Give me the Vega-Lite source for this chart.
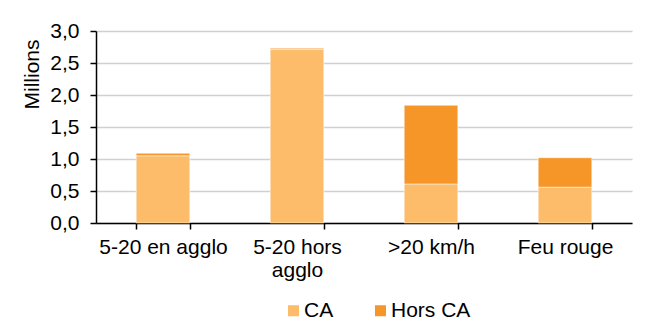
{
  "$schema": "https://vega.github.io/schema/vega-lite/v6.json",
  "width": 536,
  "height": 192,
  "autosize": {"type": "none"},
  "padding": {"top": 31, "left": 96, "right": 23, "bottom": 101},
  "background": "white",
  "config": {
    "font": "Liberation Sans",
    "view": {"stroke": null}
  },
  "data": {
    "values": [
      {"cat": "5-20 en agglo", "serie": "CA", "ord": 1, "val": 1.05},
      {"cat": "5-20 en agglo", "serie": "Hors CA", "ord": 2, "val": 0.04},
      {"cat": "5-20 hors agglo", "serie": "CA", "ord": 1, "val": 2.71},
      {"cat": "5-20 hors agglo", "serie": "Hors CA", "ord": 2, "val": 0.02},
      {"cat": ">20 km/h", "serie": "CA", "ord": 1, "val": 0.61},
      {"cat": ">20 km/h", "serie": "Hors CA", "ord": 2, "val": 1.23},
      {"cat": "Feu rouge", "serie": "CA", "ord": 1, "val": 0.56},
      {"cat": "Feu rouge", "serie": "Hors CA", "ord": 2, "val": 0.46}
    ]
  },
  "mark": {"type": "bar", "stroke": "#ffffff", "strokeWidth": 1, "strokeOpacity": 0.5},
  "encoding": {
    "x": {
      "field": "cat", "type": "nominal",
      "sort": ["5-20 en agglo", "5-20 hors agglo", ">20 km/h", "Feu rouge"],
      "scale": {"paddingInner": 0.6, "paddingOuter": 0.3},
      "axis": {
        "title": null, "labelAngle": 0, "tickBand": "extent", "labelPadding": 7,
        "labelLineHeight": 23, "labelFontSize": 21, "labelColor": "#000000",
        "domain": true, "domainColor": "#000000", "domainWidth": 1.5,
        "ticks": true, "tickColor": "#000000", "tickWidth": 1.5, "tickSize": 6,
        "labelExpr": "datum.value == '5-20 hors agglo' ? ['5-20 hors', 'agglo'] : datum.value"
      }
    },
    "y": {
      "field": "val", "type": "quantitative", "stack": "zero",
      "scale": {"domain": [0, 3], "nice": false},
      "axis": {
        "title": "Millions", "values": [0, 0.5, 1, 1.5, 2, 2.5, 3],
        "labelExpr": "replace(format(datum.value, '.1f'), '.', ',')",
        "labelPadding": 11, "labelFontSize": 21, "labelColor": "#000000",
        "titleFontSize": 21, "titleFontWeight": "normal", "titleColor": "#000000",
        "domain": true, "domainColor": "#000000", "domainWidth": 1.5,
        "ticks": true, "tickColor": "#000000", "tickWidth": 1.5, "tickSize": 6,
        "grid": true, "gridColor": "#d0d0d0", "gridWidth": 1.5,
        "titleAlign": "right", "titleBaseline": "alphabetic", "titleAngle": -90,
        "titleX": -58, "titleY": 8
      }
    },
    "color": {
      "field": "serie", "type": "nominal",
      "scale": {"domain": ["CA", "Hors CA"], "range": ["#fcbc69", "#f79628"]},
      "legend": {
        "title": null, "orient": "none", "direction": "horizontal",
        "legendX": 187, "legendY": 269, "padding": 0,
        "labelFontSize": 21, "labelColor": "#000000",
        "symbolType": "square", "symbolSize": 121, "symbolStrokeWidth": 0,
        "labelOffset": 0, "columnPadding": 36
      }
    },
    "order": {"field": "ord", "type": "quantitative"}
  }
}
